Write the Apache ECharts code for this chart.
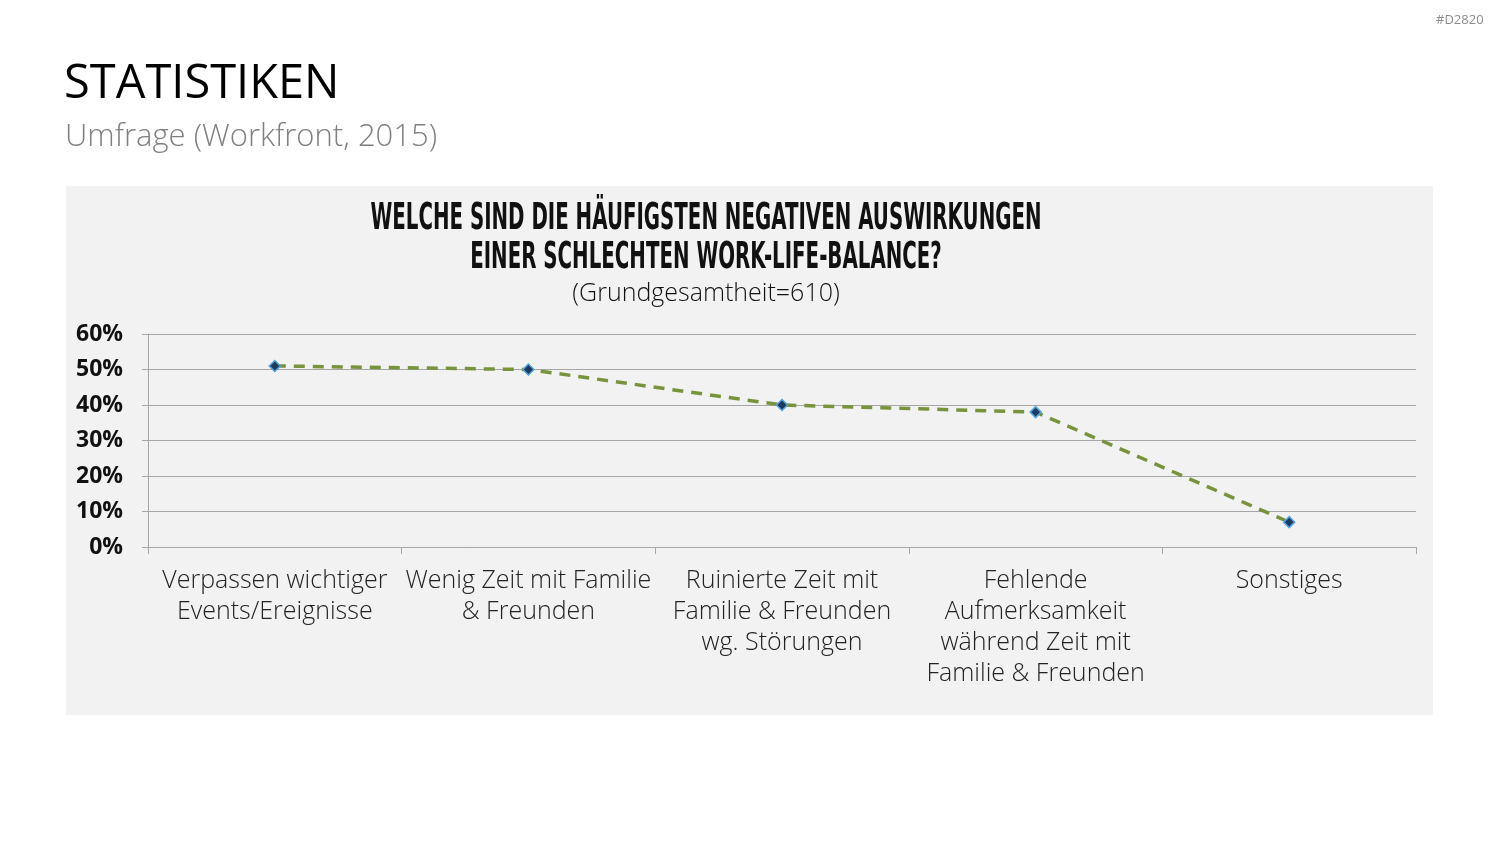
<!DOCTYPE html>
<html>
<head>
<meta charset="utf-8">
<script src="https://cdn.jsdelivr.net/npm/echarts@6/dist/echarts.min.js"></script>
<style>
  html, body { margin: 0; padding: 0; background: #fff; }
  #chart { width: 1500px; height: 844px; }
</style>
</head>
<body>
<div id="chart"></div>
<script>
// Daten aus der Umfrage (Workfront, 2015)
const categories = [
  'Verpassen wichtiger\nEvents/Ereignisse',
  'Wenig Zeit mit Familie\n& Freunden',
  'Ruinierte Zeit mit\nFamilie & Freunden\nwg. Störungen',
  'Fehlende\nAufmerksamkeit\nwährend Zeit mit\nFamilie & Freunden',
  'Sonstiges'
]
const values = [51, 50, 40, 38, 7]
const yTicks = [0, 10, 20, 30, 40, 50, 60]

const chart = echarts.init(document.getElementById('chart'), null, { renderer: 'canvas' })

const bodyFont = '"Open Sans", "Noto Sans", sans-serif'
const titleFont = '"DejaVu Sans", sans-serif'

chart.setOption({
  backgroundColor: '#ffffff',
  animation: false,
  graphic: [
    // grauer Hintergrund des Diagramms
    { type: 'rect', z: -10, shape: { x: 66, y: 186, width: 1367, height: 529 }, style: { fill: '#f2f2f2' } },
    { type: 'text', left: 1436, top: 14, style: { text: '#D2820', fill: '#8c8c8c', fontSize: 13, fontFamily: bodyFont } },
    { type: 'text', left: 64, top: 61, style: { text: 'STATISTIKEN', fill: '#000', fontSize: 47, fontFamily: bodyFont } },
    { type: 'text', left: 65, top: 122, style: { text: 'Umfrage (Workfront, 2015)', fill: '#808080', fontSize: 31, fontFamily: bodyFont, fontWeight: 300 } },
    // schmale Titelschrift: horizontal gestaucht
    {
      type: 'text', x: 706, y: 200, scaleX: 0.535,
      style: {
        text: 'WELCHE SIND DIE HÄUFIGSTEN NEGATIVEN AUSWIRKUNGEN\nEINER SCHLECHTEN WORK-LIFE-BALANCE?',
        fill: '#111', fontSize: 37, lineHeight: 39, fontWeight: 'bold', align: 'center', fontFamily: titleFont
      }
    },
    {
      type: 'text', x: 706, y: 281,
      style: { text: '(Grundgesamtheit=610)', fill: '#111', fontSize: 25, align: 'center', fontFamily: bodyFont, fontWeight: 300 }
    }
  ],
  grid: {
    left: 148,
    right: 84,
    top: 334,
    bottom: 297,
    containLabel: false
  },
  xAxis: {
    type: 'category',
    data: categories,
    boundaryGap: true,
    axisLine: { show: true, lineStyle: { color: '#a6a6a6', width: 1 } },
    axisTick: { show: true, length: 7, lineStyle: { color: '#a6a6a6' } },
    axisLabel: {
      color: '#222',
      fontSize: 25,
      lineHeight: 31,
      margin: 18,
      interval: 0,
      fontFamily: bodyFont,
      fontWeight: 300
    }
  },
  yAxis: {
    type: 'value',
    min: yTicks[0],
    max: yTicks[yTicks.length - 1],
    interval: 10,
    axisLine: { show: true, lineStyle: { color: '#a6a6a6' } },
    axisTick: { show: true, length: 6, inside: false, lineStyle: { color: '#a6a6a6' } },
    splitLine: { show: true, lineStyle: { color: '#a6a6a6', width: 1 } },
    axisLabel: {
      color: '#111',
      fontSize: 23,
      fontWeight: 'bold',
      margin: 25,
      fontFamily: bodyFont,
      formatter: '{value}%'
    }
  },
  series: [
    {
      type: 'line',
      data: values,
      symbol: 'diamond',
      symbolSize: 11,
      lineStyle: { color: '#77933c', width: 3.5, type: [11, 8] },
      itemStyle: { color: '#1f3a5f', borderColor: '#4fa3e0', borderWidth: 1.5 }
    }
  ]
})
</script>
</body>
</html>
